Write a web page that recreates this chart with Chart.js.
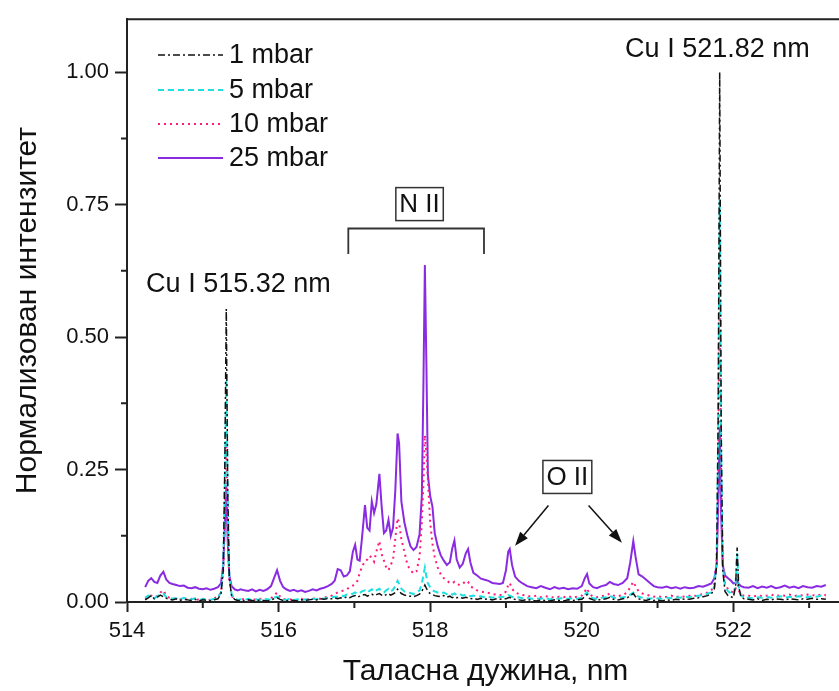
<!DOCTYPE html>
<html>
<head>
<meta charset="utf-8">
<script src="https://cdn.jsdelivr.net/npm/chart.js@4/dist/chart.umd.min.js"></script>
<style>
html,body{margin:0;padding:0;background:#fff;overflow:hidden;}
#wrap{position:absolute;left:0;top:0;width:844px;height:691px;}
</style>
</head>
<body>
<div id="wrap"><canvas id="c" width="844" height="691"></canvas></div>
<script>
// ---- data (wavelength in nm, normalized intensity) ----
const wavelengths = [
 514.24,514.28,514.32,514.36,514.40,514.44,514.48,514.52,514.56,514.60,514.65,514.70,514.75,514.80,514.85,514.90,514.95,515.00,515.05,515.10,515.15,515.20,
 515.24,515.27,515.29,515.31,515.33,515.35,515.38,515.42,515.46,
 515.50,515.55,515.60,515.65,515.70,515.75,515.80,515.85,515.90,515.94,515.98,516.02,516.06,516.10,516.15,516.20,516.25,516.30,516.35,516.40,516.45,516.50,516.55,516.60,516.65,516.70,516.74,
 516.78,516.82,516.86,516.90,516.94,516.98,517.01,517.04,517.07,517.10,517.14,517.17,517.20,517.23,517.26,517.29,517.33,517.36,517.39,517.42,517.45,517.48,517.51,517.54,517.57,517.59,517.62,517.66,517.70,517.74,517.78,517.82,517.86,517.89,517.91,517.93,517.95,517.97,518.00,518.03,518.06,518.10,518.14,518.18,518.22,518.26,518.29,518.32,518.35,518.39,518.43,518.47,518.50,518.53,518.57,518.62,518.67,518.72,518.77,518.82,518.87,518.92,518.96,
 519.00,519.03,519.05,519.08,519.12,519.17,519.22,519.28,519.34,519.40,519.46,519.52,519.58,519.64,519.70,519.76,519.82,519.88,519.94,520.00,520.04,520.07,520.10,520.15,520.20,520.26,520.32,520.37,520.42,520.48,520.54,520.60,520.64,520.68,520.71,520.75,520.80,520.85,520.90,520.95,521.00,521.06,521.12,521.18,521.24,521.30,521.36,521.42,521.48,521.54,521.60,521.66,
 521.71,521.75,521.78,521.80,521.82,521.84,521.86,521.89,521.93,521.97,522.00,522.03,522.05,522.07,522.10,522.14,
 522.20,522.26,522.32,522.38,522.44,522.50,522.56,522.62,522.68,522.74,522.80,522.86,522.92,522.98,523.04,523.10,523.16,523.22
];
const mbar1 = [
 0.004,0.008,0.012,0.006,0.009,0.013,0.010,0.007,0.005,0.004,0.006,0.003,0.005,0.004,0.003,0.005,0.002,0.004,0.003,0.002,0.004,0.006,
 0.015,0.060,0.250,0.553,0.200,0.045,0.012,0.005,0.003,
 0.003,0.002,0.004,0.003,0.002,0.004,0.003,0.002,0.004,0.006,0.008,0.005,0.003,0.002,0.004,0.003,0.002,0.004,0.003,0.004,0.005,0.004,0.006,0.005,0.007,0.006,0.008,
 0.006,0.008,0.007,0.010,0.008,0.011,0.012,0.009,0.011,0.013,0.014,0.011,0.013,0.015,0.012,0.014,0.016,0.013,0.011,0.014,0.016,0.013,0.015,0.018,0.024,0.020,0.016,0.013,0.012,0.011,0.010,0.012,0.015,0.020,0.026,0.032,0.026,0.020,0.016,0.014,0.012,0.011,0.010,0.012,0.009,0.011,0.008,0.010,0.008,0.009,0.007,0.009,0.008,0.006,0.007,0.005,0.007,0.005,0.006,0.004,0.006,0.005,0.006,
 0.006,0.008,0.009,0.006,0.005,0.004,0.003,0.005,0.003,0.002,0.004,0.003,0.002,0.004,0.003,0.002,0.004,0.003,0.004,0.005,0.010,0.014,0.007,0.004,0.003,0.005,0.006,0.009,0.005,0.004,0.006,0.008,0.012,0.016,0.010,0.006,0.004,0.003,0.005,0.003,0.004,0.002,0.004,0.003,0.005,0.004,0.006,0.005,0.007,0.008,0.010,0.012,
 0.015,0.025,0.070,0.350,1.000,0.320,0.060,0.020,0.012,0.010,0.008,0.030,0.103,0.030,0.010,0.006,
 0.005,0.004,0.006,0.003,0.005,0.004,0.006,0.005,0.004,0.006,0.005,0.004,0.006,0.005,0.007,0.005,0.006,0.005
];
const mbar5 = [
 0.008,0.012,0.010,0.007,0.011,0.014,0.016,0.009,0.008,0.006,0.007,0.005,0.008,0.006,0.005,0.007,0.004,0.005,0.006,0.004,0.006,0.009,
 0.018,0.070,0.220,0.430,0.180,0.050,0.015,0.006,0.004,
 0.005,0.004,0.006,0.003,0.005,0.004,0.006,0.005,0.004,0.008,0.010,0.007,0.005,0.004,0.006,0.004,0.005,0.003,0.005,0.004,0.006,0.005,0.007,0.006,0.008,0.009,0.010,
 0.010,0.012,0.011,0.014,0.013,0.016,0.018,0.015,0.017,0.020,0.022,0.018,0.021,0.024,0.019,0.022,0.025,0.020,0.018,0.022,0.025,0.020,0.023,0.030,0.040,0.034,0.025,0.020,0.018,0.017,0.015,0.018,0.022,0.035,0.050,0.065,0.048,0.035,0.028,0.022,0.020,0.018,0.016,0.018,0.015,0.017,0.014,0.016,0.013,0.015,0.012,0.014,0.013,0.011,0.012,0.010,0.011,0.009,0.010,0.008,0.010,0.009,0.010,
 0.010,0.013,0.012,0.010,0.008,0.009,0.007,0.008,0.006,0.007,0.006,0.008,0.005,0.007,0.006,0.008,0.006,0.007,0.006,0.008,0.014,0.018,0.010,0.007,0.006,0.008,0.009,0.012,0.008,0.007,0.009,0.010,0.014,0.018,0.014,0.010,0.008,0.007,0.006,0.008,0.007,0.006,0.008,0.007,0.009,0.008,0.010,0.009,0.011,0.012,0.013,0.016,
 0.018,0.030,0.080,0.320,0.760,0.280,0.070,0.030,0.020,0.016,0.014,0.035,0.092,0.030,0.012,0.008,
 0.008,0.007,0.009,0.008,0.010,0.008,0.009,0.011,0.008,0.010,0.009,0.011,0.010,0.009,0.011,0.010,0.012,0.010
];
const mbar10 = [
 0.006,0.010,0.012,0.009,0.011,0.018,0.022,0.012,0.008,0.007,0.006,0.005,0.007,0.004,0.006,0.005,0.004,0.006,0.005,0.004,0.007,0.010,
 0.018,0.060,0.160,0.300,0.130,0.040,0.012,0.005,0.004,
 0.004,0.006,0.003,0.005,0.004,0.006,0.005,0.004,0.007,0.012,0.018,0.010,0.006,0.004,0.005,0.003,0.004,0.006,0.004,0.005,0.006,0.007,0.006,0.008,0.010,0.012,0.015,
 0.018,0.020,0.022,0.024,0.028,0.031,0.035,0.040,0.055,0.066,0.078,0.080,0.087,0.084,0.076,0.095,0.115,0.090,0.078,0.065,0.060,0.070,0.080,0.120,0.158,0.150,0.118,0.095,0.070,0.060,0.054,0.058,0.085,0.150,0.220,0.315,0.280,0.230,0.150,0.110,0.085,0.065,0.052,0.045,0.040,0.036,0.035,0.038,0.034,0.032,0.034,0.040,0.038,0.030,0.026,0.022,0.020,0.018,0.017,0.015,0.014,0.013,0.014,
 0.020,0.032,0.036,0.025,0.018,0.015,0.013,0.012,0.010,0.012,0.009,0.011,0.010,0.008,0.010,0.009,0.011,0.008,0.010,0.012,0.020,0.026,0.015,0.010,0.009,0.011,0.012,0.016,0.012,0.011,0.013,0.018,0.028,0.038,0.030,0.020,0.016,0.014,0.012,0.010,0.011,0.009,0.010,0.012,0.009,0.011,0.010,0.012,0.011,0.013,0.015,0.018,
 0.022,0.035,0.080,0.260,0.550,0.220,0.075,0.035,0.024,0.020,0.018,0.025,0.045,0.022,0.014,0.012,
 0.012,0.010,0.013,0.011,0.012,0.014,0.011,0.013,0.012,0.014,0.011,0.013,0.012,0.014,0.013,0.012,0.014,0.013
];
const mbar25 = [
 0.028,0.040,0.045,0.038,0.036,0.050,0.057,0.042,0.036,0.034,0.032,0.030,0.031,0.027,0.026,0.028,0.025,0.024,0.026,0.023,0.025,0.028,
 0.035,0.070,0.140,0.220,0.110,0.050,0.030,0.024,0.022,
 0.024,0.022,0.021,0.024,0.020,0.023,0.021,0.024,0.030,0.045,0.060,0.040,0.028,0.024,0.021,0.023,0.020,0.022,0.019,0.021,0.024,0.022,0.025,0.027,0.030,0.034,0.040,
 0.062,0.060,0.048,0.050,0.058,0.095,0.108,0.080,0.078,0.120,0.183,0.140,0.135,0.190,0.168,0.185,0.242,0.180,0.130,0.135,0.155,0.125,0.140,0.210,0.318,0.300,0.190,0.150,0.125,0.105,0.098,0.104,0.128,0.200,0.400,0.636,0.450,0.240,0.200,0.180,0.130,0.105,0.088,0.078,0.070,0.075,0.100,0.116,0.080,0.065,0.072,0.092,0.100,0.075,0.055,0.050,0.044,0.042,0.040,0.036,0.035,0.034,0.036,
 0.060,0.095,0.100,0.070,0.048,0.040,0.035,0.030,0.028,0.026,0.030,0.027,0.024,0.028,0.025,0.027,0.024,0.026,0.025,0.030,0.045,0.053,0.035,0.028,0.026,0.030,0.032,0.038,0.034,0.032,0.036,0.045,0.075,0.115,0.085,0.052,0.048,0.042,0.036,0.030,0.028,0.027,0.029,0.026,0.028,0.025,0.028,0.026,0.027,0.030,0.029,0.032,
 0.035,0.045,0.070,0.180,0.330,0.160,0.070,0.050,0.045,0.040,0.035,0.036,0.040,0.034,0.030,0.028,
 0.027,0.030,0.026,0.029,0.027,0.030,0.026,0.028,0.031,0.027,0.029,0.026,0.030,0.028,0.027,0.030,0.029,0.032
];
const seriesLabels = ['1 mbar','5 mbar','10 mbar','25 mbar'];
const xTicks = [514,516,518,520,522];
const xMinorTicks = [515,517,519,521,523];
const yTicks = [0,0.25,0.5,0.75,1.0];
const yMinorTicks = [0.125,0.375,0.625,0.875];
const xTitle = 'Таласна дужина, nm';
const yTitle = 'Нормализован интензитет';
// annotations (data coordinates)
const peakLabels = [
  {text:'Cu I 515.32 nm', x:515.47, y:0.600},
  {text:'Cu I 521.82 nm', x:521.79, y:1.043}
];
const boxLabels = [
  {text:'N II', x:517.86, y:0.751},
  {text:'O II', x:519.81, y:0.236}
];
const nIIBracket = {x1:516.92, x2:518.71, y:0.705, yEnd:0.657};
const oIIArrows = [
  {x1:519.56, y1:0.182, x2:519.12, y2:0.106},
  {x1:520.09, y1:0.182, x2:520.53, y2:0.112}
];

const FONT = "'Liberation Sans', Arial, sans-serif";
const toPts = arr => wavelengths.map((w,i)=>({x:w,y:arr[i]}));

const styles = [
  {color:'#111111', dash:[7,3,2,3], width:1.5},
  {color:'#1fe0e0', dash:[6,4], width:2},
  {color:'#ff1a7a', dash:[2,4], width:2},
  {color:'#8a2be2', dash:[], width:2}
];
const seriesData = [mbar1, mbar5, mbar10, mbar25];

const datasets = seriesData.map((arr,i)=>({
  label: seriesLabels[i],
  data: toPts(arr),
  borderColor: styles[i].color,
  borderDash: styles[i].dash,
  borderWidth: styles[i].width,
  pointRadius: 0,
  tension: 0,
  fill: false
}));

const overlay = {
  id:'overlay',
  afterDraw(chart){
    const ctx = chart.ctx, ca = chart.chartArea;
    const xs = chart.scales.x, ys = chart.scales.y;
    ctx.save();
    // frame top/right
    ctx.strokeStyle = '#222'; ctx.lineWidth = 2;
    ctx.beginPath();
    ctx.moveTo(ca.left, ca.top); ctx.lineTo(ca.right, ca.top); ctx.lineTo(ca.right, ca.bottom);
    ctx.stroke();
    // minor ticks
    ctx.lineWidth = 2;
    ctx.beginPath();
    xMinorTicks.forEach(v=>{ const px = xs.getPixelForValue(v); ctx.moveTo(px, ca.bottom); ctx.lineTo(px, ca.bottom+6); });
    yMinorTicks.forEach(v=>{ const py = ys.getPixelForValue(v); ctx.moveTo(ca.left, py); ctx.lineTo(ca.left-6, py); });
    ctx.stroke();
    // legend
    ctx.font = '27px ' + FONT;
    ctx.textBaseline = 'middle';
    ctx.textAlign = 'left';
    const rows = [55, 90, 124, 158];
    datasets.forEach((d,i)=>{
      ctx.strokeStyle = styles[i].color;
      ctx.lineWidth = styles[i].width;
      ctx.setLineDash(styles[i].dash);
      ctx.beginPath(); ctx.moveTo(158, rows[i]); ctx.lineTo(223, rows[i]); ctx.stroke();
      ctx.setLineDash([]);
      ctx.fillStyle = '#111';
      ctx.fillText(d.label, 229, rows[i]+1);
    });
    // peak labels
    ctx.fillStyle = '#111';
    ctx.textAlign = 'center';
    ctx.font = '27px ' + FONT;
    peakLabels.forEach(p=>{ ctx.fillText(p.text, xs.getPixelForValue(p.x), ys.getPixelForValue(p.y)); });
    // box labels
    ctx.font = '26px ' + FONT;
    ctx.strokeStyle = '#333'; ctx.lineWidth = 1.5;
    boxLabels.forEach(b=>{
      const cx = xs.getPixelForValue(b.x), cy = ys.getPixelForValue(b.y);
      const w = ctx.measureText(b.text).width + 7, h = 33;
      ctx.strokeRect(cx - w/2, cy - h/2, w, h);
      ctx.fillText(b.text, cx, cy + 1);
    });
    // bracket
    ctx.strokeStyle = '#333'; ctx.lineWidth = 1.8;
    ctx.beginPath();
    const bx1 = xs.getPixelForValue(nIIBracket.x1), bx2 = xs.getPixelForValue(nIIBracket.x2);
    const by = ys.getPixelForValue(nIIBracket.y), bye = ys.getPixelForValue(nIIBracket.yEnd);
    ctx.moveTo(bx1, bye); ctx.lineTo(bx1, by); ctx.lineTo(bx2, by); ctx.lineTo(bx2, bye);
    ctx.stroke();
    // arrows
    ctx.fillStyle = '#111'; ctx.strokeStyle = '#111'; ctx.lineWidth = 1.5;
    oIIArrows.forEach(a=>{
      const x1 = xs.getPixelForValue(a.x1), y1 = ys.getPixelForValue(a.y1);
      const x2 = xs.getPixelForValue(a.x2), y2 = ys.getPixelForValue(a.y2);
      const ang = Math.atan2(y2-y1, x2-x1);
      const L = 14, W = 5;
      const bxp = x2 - L*Math.cos(ang), byp = y2 - L*Math.sin(ang);
      ctx.beginPath(); ctx.moveTo(x1,y1); ctx.lineTo(bxp,byp); ctx.stroke();
      ctx.beginPath();
      ctx.moveTo(x2,y2);
      ctx.lineTo(bxp + W*Math.sin(ang), byp - W*Math.cos(ang));
      ctx.lineTo(bxp - W*Math.sin(ang), byp + W*Math.cos(ang));
      ctx.closePath(); ctx.fill();
    });
    ctx.restore();
  }
};

new Chart(document.getElementById('c'), {
  type:'line',
  data:{datasets},
  options:{
    responsive:false,
    animation:false,
    layout:{padding:{top:13,left:0,right:0,bottom:0}},
    plugins:{legend:{display:false}, tooltip:{enabled:false}},
    scales:{
      x:{
        type:'linear', min:514, max:523.46,
        afterFit(s){ s.height = 89; },
        afterBuildTicks(s){ s.ticks = xTicks.map(v=>({value:v})); },
        ticks:{ font:{family:FONT, size:22}, color:'#111', padding:6, maxRotation:0,
                callback:v=>String(v) },
        grid:{ drawOnChartArea:false, drawTicks:true, tickLength:10, tickWidth:2, tickColor:'#222' },
        border:{ display:true, color:'#222', width:2 },
        title:{ display:true, text:xTitle, font:{family:FONT, size:30}, color:'#111', padding:{top:0,bottom:1} }
      },
      y:{
        type:'linear', min:0, max:1.1,
        afterFit(s){ s.width = 127; },
        afterBuildTicks(s){ s.ticks = yTicks.map(v=>({value:v})); },
        ticks:{ font:{family:FONT, size:22}, color:'#111', padding:6,
                callback:v=>Number(v).toFixed(2) },
        grid:{ drawOnChartArea:false, drawTicks:true, tickLength:12, tickWidth:2, tickColor:'#222' },
        border:{ display:true, color:'#222', width:2 },
        title:{ display:true, text:yTitle, font:{family:FONT, size:30}, color:'#111', padding:{top:10,bottom:0} }
      }
    }
  },
  plugins:[overlay]
});
</script>
</body>
</html>
